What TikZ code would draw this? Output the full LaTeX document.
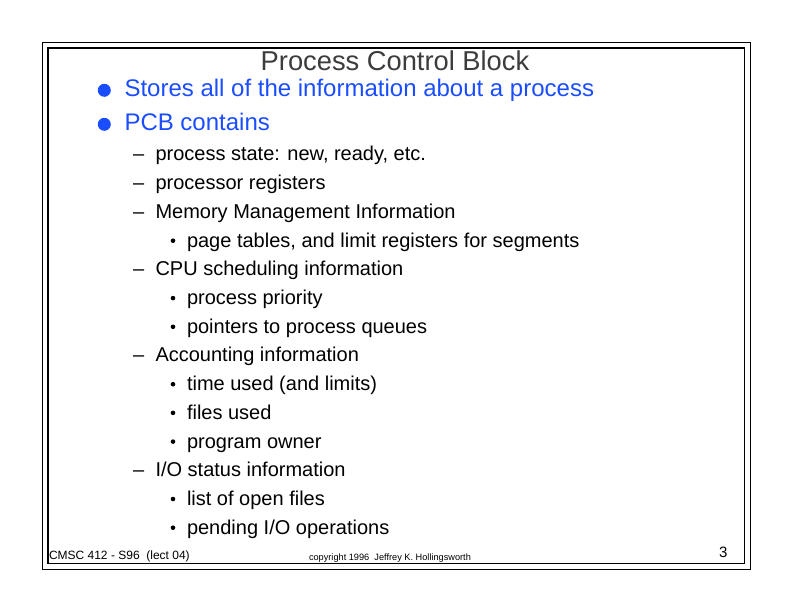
\documentclass[tikz,border=0pt]{standalone}
\usepackage{fontspec}
\setmainfont{Liberation Sans}
\definecolor{pcbblue}{RGB}{26,77,255}
\definecolor{titlegray}{RGB}{60,60,60}
\begin{document}
\begin{tikzpicture}[x=1pt,y=-1pt,
  txt/.style={anchor=base west,inner sep=0pt,outer sep=0pt},
  ttl/.style={txt,anchor=base,text=titlegray,font=\fontsize{27.3}{30}\selectfont},
  lvlone/.style={txt,text=pcbblue,font=\fontsize{24}{28}\selectfont},
  lvltwo/.style={txt,font=\fontsize{20}{24}\selectfont},
  frame/.style={draw=black,line width=1.1pt},
  bigdot/.style={circle,fill=pcbblue,inner sep=0pt,minimum size=13pt},
  smalldot/.style={circle,fill=black,inner sep=0pt,minimum size=4.6pt},
  foot/.style={txt,font=\fontsize{12}{14}\selectfont},
  copy/.style={txt,font=\fontsize{9.2}{11}\selectfont}]
\useasboundingbox (0,0) rectangle (792,612);
\draw[frame] (42.3,42.3) rectangle (750.3,569.3);
\draw[frame] (48,48) rectangle (744.3,563.3);
\node[ttl] (title) at (395,70.5) {Process Control Block};
% level one
\node[bigdot] (d1) at (104.3,90.3) {};
\node[lvlone] (l1) at (124.5,97) {Stores all of the information about a process};
\node[bigdot] (d2) at (104.3,124.3) {};
\node[lvlone] (l2) at (124.5,131) {PCB contains};
% level two and three
\node[lvltwo] (s1d) at (133,161) {–};
\node[lvltwo] (s1) at (155.5,161) {process state: new, ready, etc.};
\node[lvltwo] (s2d) at (133,189.7) {–};
\node[lvltwo] (s2) at (155.5,189.7) {processor registers};
\node[lvltwo] (s3d) at (133,218.4) {–};
\node[lvltwo] (s3) at (155.5,218.4) {Memory Management Information};
\node[smalldot] (t1d) at (173,240.7) {};
\node[lvltwo] (t1) at (187,247.1) {page tables, and limit registers for segments};
\node[lvltwo] (s4d) at (133,275.8) {–};
\node[lvltwo] (s4) at (155.5,275.8) {CPU scheduling information};
\node[smalldot] (t2d) at (173,298.1) {};
\node[lvltwo] (t2) at (187,304.5) {process priority};
\node[smalldot] (t3d) at (173,326.8) {};
\node[lvltwo] (t3) at (187,333.2) {pointers to process queues};
\node[lvltwo] (s5d) at (133,361.9) {–};
\node[lvltwo] (s5) at (155.5,361.9) {Accounting information};
\node[smalldot] (t4d) at (173,384.2) {};
\node[lvltwo] (t4) at (187,390.6) {time used (and limits)};
\node[smalldot] (t5d) at (173,412.9) {};
\node[lvltwo] (t5) at (187,419.3) {files used};
\node[smalldot] (t6d) at (173,441.6) {};
\node[lvltwo] (t6) at (187,448) {program owner};
\node[lvltwo] (s6d) at (133,476.7) {–};
\node[lvltwo] (s6) at (155.5,476.7) {I/O status information};
\node[smalldot] (t7d) at (173,499) {};
\node[lvltwo] (t7) at (187,505.4) {list of open files};
\node[smalldot] (t8d) at (173,527.7) {};
\node[lvltwo] (t8) at (187,534.1) {pending I/O operations};
% footer
\node[foot] (course) at (49,559) {CMSC 412 - S96\ \ (lect 04)};
\node[copy] (copyr) at (309,560) {copyright 1996\ \ Jeffrey K. Hollingsworth};
\node[txt,anchor=base east,font=\fontsize{15}{17}\selectfont] (page) at (727.5,557) {3};
\end{tikzpicture}
\end{document}
